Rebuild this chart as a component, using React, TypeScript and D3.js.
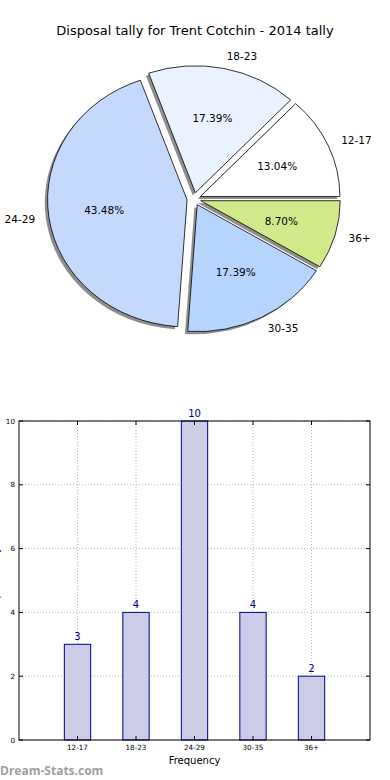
import * as d3 from 'd3';

const ageGroups = ['12-17', '18-23', '24-29', '30-35', '36+'];
const tally = [3, 4, 10, 4, 2];
const sliceColors = ['#ffffff', '#eaf2ff', '#c5d9ff', '#b5d5ff', '#d0ea8a'];
const explode = [0.05, 0.05, 0.05, 0.05, 0.05];
const yTicks = [0, 2, 4, 6, 8, 10];

const W = 390;
const H = 780;
const font = 'DejaVu Sans, sans-serif';

// pie geometry (matplotlib pie drawn without equal aspect -> ellipse)
const cx = 194;
const cy = 199;
const rx = 139.5;
const ry = 127;

// bar axes box
const bx0 = 19;
const bx1 = 370;
const by0 = 421;
const by1 = 740;

const PieChart = () => {
  const total = d3.sum(tally);
  const pie = d3
    .pie<number>()
    .sort(null)
    .startAngle(Math.PI / 2)
    .endAngle(Math.PI / 2 - 2 * Math.PI);
  const arcs = pie(tally);
  const arc = d3.arc<d3.PieArcDatum<number>>().innerRadius(0).outerRadius(1);

  return (
    <g>
      <g transform={`translate(${cx},${cy}) scale(${rx},${ry})`}>
        {arcs.map((a, i) => {
          const mid = (a.startAngle + a.endAngle) / 2;
          const ox = explode[i] * Math.sin(mid);
          const oy = -explode[i] * Math.cos(mid);
          return (
            <g key={ageGroups[i]}>
              <path
                d={arc(a) || ''}
                transform={`translate(${ox - 0.02},${oy + 0.02})`}
                fill="#7a7a7a"
                opacity={0.85}
              />
              <path
                d={arc(a) || ''}
                transform={`translate(${ox},${oy})`}
                fill={sliceColors[i]}
                stroke="#000"
                strokeWidth={0.8}
                vectorEffect="non-scaling-stroke"
              />
            </g>
          );
        })}
      </g>
      {arcs.map((a, i) => {
        const mid = (a.startAngle + a.endAngle) / 2;
        const ux = Math.sin(mid);
        const uy = -Math.cos(mid);
        const ex = cx + explode[i] * ux * rx;
        const ey = cy + explode[i] * uy * ry;
        return (
          <g key={'t' + ageGroups[i]} fontFamily={font} fontSize={10.5}>
            <text
              x={ex + 1.1 * ux * rx}
              y={ey + 1.1 * uy * ry}
              dy="0.35em"
              textAnchor={ux > 0 ? 'start' : 'end'}
            >
              {ageGroups[i]}
            </text>
            <text
              x={ex + 0.6 * ux * rx}
              y={ey + 0.6 * uy * ry}
              dy="0.35em"
              textAnchor="middle"
            >
              {((tally[i] / total) * 100).toFixed(2) + '%'}
            </text>
          </g>
        );
      })}
    </g>
  );
};

const BarChart = () => {
  const x = d3.scaleLinear().domain([-1, 5]).range([bx0, bx1]);
  const y = d3.scaleLinear().domain([0, 10]).range([by1, by0]);
  const barW = 0.45;

  return (
    <g fontFamily={font}>
      {/* grid */}
      {ageGroups.map((g, i) => (
        <line
          key={'gx' + g}
          x1={x(i)}
          x2={x(i)}
          y1={by0}
          y2={by1}
          stroke="#b8b8b8"
          strokeDasharray="1,2"
        />
      ))}
      {yTicks.map((t) => (
        <line
          key={'gy' + t}
          x1={bx0}
          x2={bx1}
          y1={y(t)}
          y2={y(t)}
          stroke="#b8b8b8"
          strokeDasharray="1,2"
        />
      ))}
      {/* bars */}
      {tally.map((v, i) => (
        <g key={'b' + ageGroups[i]}>
          <rect
            x={x(i - barW / 2)}
            y={y(v)}
            width={x(barW) - x(0)}
            height={y(0) - y(v)}
            fill="#cccce6"
            stroke="#00008b"
            strokeWidth={1}
          />
          <text
            x={x(i)}
            y={y(v) - 4}
            textAnchor="middle"
            fontSize={10}
            fill="#00008b"
          >
            {v}
          </text>
        </g>
      ))}
      {/* frame */}
      <rect
        x={bx0}
        y={by0}
        width={bx1 - bx0}
        height={by1 - by0}
        fill="none"
        stroke="#000"
        strokeWidth={1}
      />
      {yTicks.map((t) => (
        <g key={'yt' + t}>
          <line x1={bx0} x2={bx0 + 4} y1={y(t)} y2={y(t)} stroke="#000" />
          <line x1={bx1} x2={bx1 - 4} y1={y(t)} y2={y(t)} stroke="#000" />
          <text
            x={bx0 - 4}
            y={y(t)}
            dy="0.35em"
            textAnchor="end"
            fontSize={7.2}
          >
            {t}
          </text>
        </g>
      ))}
      {ageGroups.map((g, i) => (
        <g key={'xt' + g}>
          <line x1={x(i)} x2={x(i)} y1={by1} y2={by1 - 4} stroke="#000" />
          <line x1={x(i)} x2={x(i)} y1={by0} y2={by0 + 4} stroke="#000" />
          <text x={x(i)} y={by1 + 10} textAnchor="middle" fontSize={7.2}>
            {g}
          </text>
        </g>
      ))}
      <text x={(bx0 + bx1) / 2} y={764} textAnchor="middle" fontSize={10}>
        Frequency
      </text>
      {/* y label sits mostly off the left edge, as in the source image */}
      <text
        transform={`translate(-1.5,${(by0 + by1) / 2}) rotate(-90)`}
        textAnchor="middle"
        fontSize={10}
      >
        Disposal Tally
      </text>
    </g>
  );
};

export default function App() {
  return (
    <svg width={W} height={H} style={{ position: 'absolute', left: 0, top: 0 }}>
      <rect width={W} height={H} fill="#fff" />
      <text
        x={195}
        y={35}
        textAnchor="middle"
        fontFamily={font}
        fontSize={13}
      >
        Disposal tally for Trent Cotchin - 2014 tally
      </text>
      <PieChart />
      <BarChart />
      <text
        x={0}
        y={775}
        fontFamily="Open Sans, sans-serif"
        fontWeight="bold"
        fontSize={12}
        fill="#a0a0a0"
      >
        Dream-Stats.com
      </text>
    </svg>
  );
}
